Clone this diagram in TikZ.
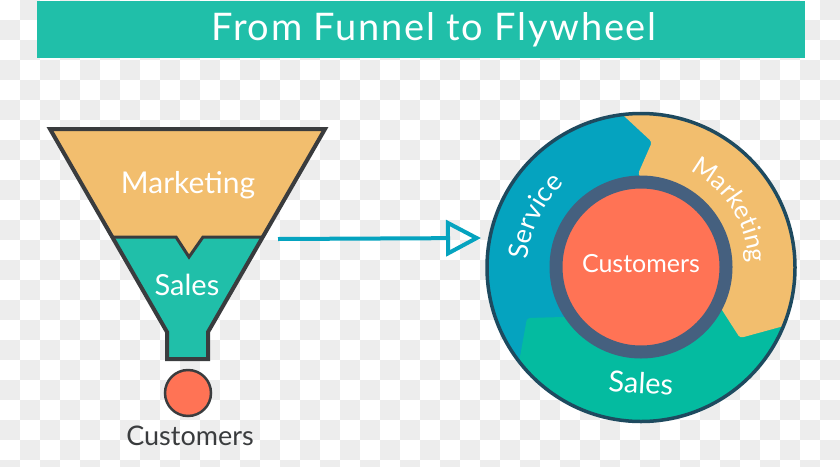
\documentclass[tikz,border=0pt]{standalone}
\usepackage{fontspec}
\setmainfont{Lato}
\newfontfamily\titlefont[LetterSpace=4.5]{Lato}
\usetikzlibrary{arrows.meta,decorations.text}
\definecolor{funnelgold}{HTML}{F2BE6E}
\definecolor{funnelteal}{HTML}{20BFA9}
\definecolor{funneldark}{HTML}{3A3C3E}
\definecolor{wheelblue}{HTML}{05A3BF}
\definecolor{wheelteal}{HTML}{04BBA0}
\definecolor{wheelrim}{HTML}{1E4A5F}
\definecolor{wheelring}{HTML}{45607F}
\definecolor{coral}{HTML}{FF7355}
\definecolor{checker}{HTML}{EDEDED}
\tikzset{
	funnelline/.style={draw=funneldark, line width=4pt, line join=miter},
	funnellabel/.style={text=white, font=\fontsize{30}{32}\selectfont},
	wheellabel/.style={text=white, font=\fontsize{25}{27}\selectfont},
}
\begin{document}
\begin{tikzpicture}[x=1pt, y=-1pt]
\useasboundingbox (0,0) rectangle (840,466);
\foreach \i in {0,...,41} \foreach \j in {0,...,23} {
	\pgfmathparse{int(mod(\i+\j,2))}
	\ifnum\pgfmathresult=1
		\fill[checker] (20*\i,20*\j) rectangle ++(20,20);
	\fi
}
\fill[funnelteal] (37,1) rectangle (805,58);
\node[text=white, font=\titlefont\fontsize{38}{40}\selectfont] (title) at (434,30) {From Funnel to Flywheel};

\fill[funnelgold] (50,129) -- (325,129) -- (263,237) -- (203,237)
	-- (189,257) -- (176,237) -- (112,237) -- cycle;
\fill[funnelteal] (112,237) -- (176,237) -- (189,257) -- (203,237) -- (263,237)
	-- (208,332) -- (208,359) -- (167,359) -- (167,332) -- cycle;
\draw[funnelline] (50,129) -- (325,129) -- (208,332) -- (208,359)
	-- (167,359) -- (167,332) -- cycle;
\draw[funneldark, line width=3pt] (112,237) -- (176,237) -- (189,257)
	-- (203,237) -- (263,237);
\node[funnellabel] (funnelmarketing) at (188,185) {Marketing};
\node[funnellabel, font=\fontsize{29}{31}\selectfont] (funnelsales) at (187,285) {Sales};
\node[circle, draw=funneldark, line width=2.5pt, fill=coral, minimum size=46pt,
	inner sep=0pt] (drop) at (188,393) {};
\node[text=funneldark, font=\fontsize{27}{29}\selectfont] (dropname) at (190,436) {Customers};

\coordinate (start) at (278,239);
\coordinate (tip) at (481,238);
\draw[wheelblue, line width=4pt, -{Triangle[open, length=35pt, width=36pt, line width=4pt]}]
	(start) -- (tip);

\fill[wheelblue] (641,267.5) circle (154);
\begin{scope}
	\clip (641,267.5) circle (154);
	\fill[wheelteal, rounded corners=3pt] (514,390) -- (527,318) -- (600,316)
		-- (720,300) -- (790,310) -- (830,470) -- (500,470) -- cycle;
	\fill[funnelgold, rounded corners=3pt] (610,103) -- (652,142) -- (638,174)
		-- (680,230) -- (722,310) -- (740,338) -- (835,312) -- (835,100) -- cycle;
\end{scope}
\draw[wheelrim, line width=3.5pt] (641,267.5) circle (154);
\node[circle, draw=wheelring, line width=13pt, fill=coral, minimum size=170pt,
	inner sep=0pt] (hub) at (641,267) {};
\node[wheellabel] (hubname) at (641,264) {Customers};
\node[wheellabel, rotate=-3, font=\fontsize{29}{31}\selectfont] (wheelsales) at (641,383) {Sales};
\path[decorate, decoration={text along path, text align=center,
	text={|\color{white}\fontsize{25.5}{27}\selectfont|Marketing}}]
	(641,267) ++(-65:108) arc (-65:0:108);
\path[decorate, decoration={text along path, text align=center,
	text={|\color{white}\fontsize{27}{29}\selectfont|Service}}]
	(641,267) ++(-187:113) arc (-187:-122:113);
\end{tikzpicture}
\end{document}
